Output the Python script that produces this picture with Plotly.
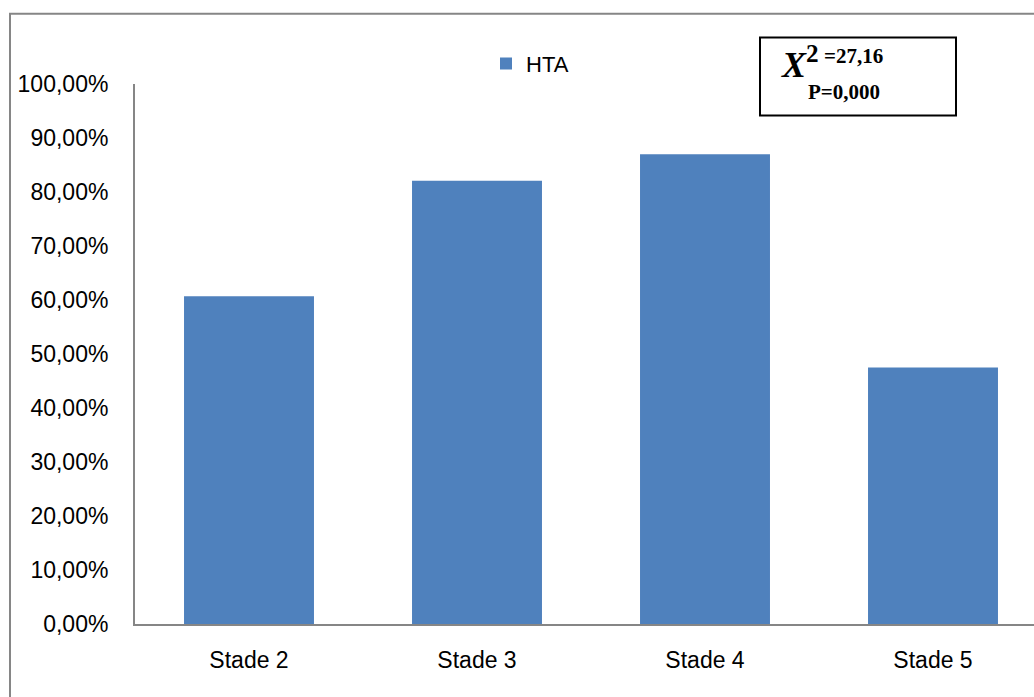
import plotly.graph_objects as go

categories = ["Stade 2", "Stade 3", "Stade 4", "Stade 5"]
hta_values = [0.607, 0.821, 0.870, 0.475]
y_ticks = [0.0, 0.1, 0.2, 0.3, 0.4, 0.5, 0.6, 0.7, 0.8, 0.9, 1.0]
series_name = "HTA"

W, H = 1034, 697
L, T, B = 135, 83.5, 697 - 624.5
plot_w = W - L
plot_h = H - T - B


def px_x(px):
    return (px - L) / plot_w


def px_y(py):
    return 1 + (T - py) / plot_h


fig = go.Figure()
fig.add_trace(go.Bar(
    x=categories, y=hta_values, name=series_name,
    marker=dict(color="#4F81BD", line=dict(width=0)),
    width=0.57,
))

fig.update_layout(
    width=W, height=H,
    margin=dict(l=L, r=0, t=T, b=B, pad=0),
    paper_bgcolor="white", plot_bgcolor="white",
    separators=", ",
    font=dict(family="Liberation Sans, Arial, sans-serif", color="black", size=23),
    showlegend=True,
    legend=dict(x=px_x(486), y=px_y(42), xanchor="left", yanchor="top",
                orientation="h", font=dict(size=22), bgcolor="rgba(0,0,0,0)",
                itemwidth=30),
    xaxis=dict(range=[-0.5, -0.5 + plot_w / 228], showline=True, linecolor="#868686",
               linewidth=2, ticks="", showgrid=False, zeroline=False,
               ticklabelstandoff=14, tickfont=dict(size=23)),
    yaxis=dict(range=[0, 1], tickvals=y_ticks, tickformat=".2%", showline=True,
               linecolor="#868686", linewidth=2, ticks="", showgrid=False,
               zeroline=False, ticklabelstandoff=20, tickfont=dict(size=23)),
    bargap=0.43,
)

# outer chart border
fig.add_shape(type="rect", xref="paper", yref="paper",
              x0=px_x(10), x1=px_x(1045), y0=px_y(13), y1=px_y(710),
              line=dict(color="#868686", width=2), fillcolor="rgba(0,0,0,0)", layer="below")

# stats box
fig.add_shape(type="rect", xref="paper", yref="paper",
              x0=px_x(760), x1=px_x(956), y0=px_y(37), y1=px_y(115),
              line=dict(color="black", width=2), fillcolor="white")

serif = "Liberation Serif, Times New Roman, serif"
fig.add_annotation(xref="paper", yref="paper", x=px_x(779), y=px_y(62),
                   xanchor="left", yanchor="middle", showarrow=False,
                   text="<b><i>X</i></b><b><sup>2</sup></b>",
                   font=dict(family=serif, size=36, color="black"))
fig.add_annotation(xref="paper", yref="paper", x=px_x(822), y=px_y(55),
                   xanchor="left", yanchor="middle", showarrow=False,
                   text="<b>=27,16</b>", font=dict(family=serif, size=21, color="black"))
fig.add_annotation(xref="paper", yref="paper", x=px_x(806), y=px_y(92),
                   xanchor="left", yanchor="middle", showarrow=False,
                   text="<b>P=0,000</b>", font=dict(family=serif, size=21, color="black"))

fig.write_html("out.html")
